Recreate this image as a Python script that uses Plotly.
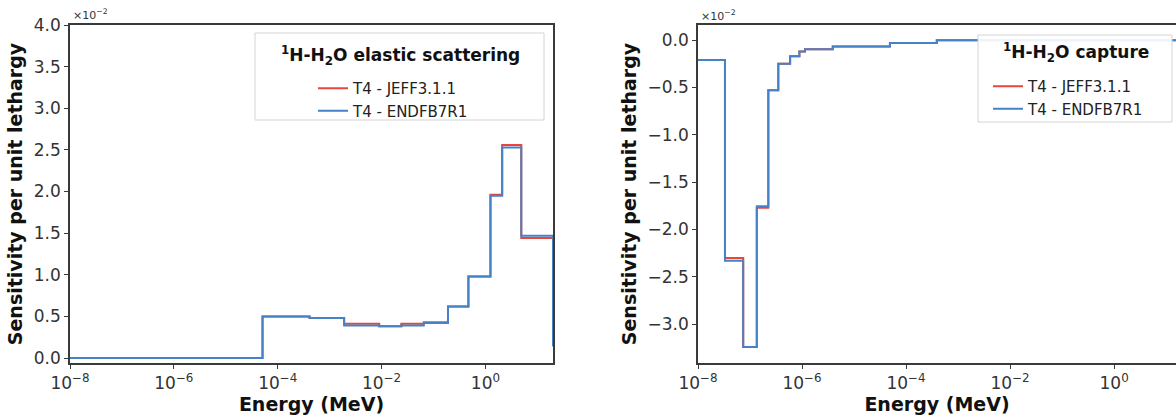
import plotly.graph_objects as go
from plotly.subplots import make_subplots

# ---- data ----
E_el = [1e-8, 5.1e-5, 4.1e-4, 1.9e-3, 9.0e-3, 2.4e-2, 6.5e-2, 0.19, 0.47, 1.25, 2.1, 4.9, 20.0]
el_jeff = [0.0, 0.50, 0.48, 0.41, 0.38, 0.41, 0.43, 0.62, 0.98, 1.96, 2.56, 1.44, 0.14]
el_endf = [0.0, 0.50, 0.48, 0.39, 0.38, 0.39, 0.42, 0.62, 0.98, 1.95, 2.53, 1.47, 0.14]

E_cap = [1e-8, 3.3e-8, 7.4e-8, 1.35e-7, 2.25e-7, 3.5e-7, 5.9e-7, 8.9e-7, 1.14e-6, 3.9e-6, 4.9e-5, 3.9e-4, 20.0]
cap_jeff = [-0.21, -2.30, -3.24, -1.77, -0.53, -0.25, -0.17, -0.12, -0.095, -0.067, -0.03, 0.0, 0.0]
cap_endf = [-0.21, -2.33, -3.24, -1.755, -0.53, -0.25, -0.17, -0.12, -0.095, -0.067, -0.03, 0.0, 0.0]

series_names = ["T4 - JEFF3.1.1", "T4 - ENDFB7R1"]
x_tickvals = [1e-8, 1e-6, 1e-4, 1e-2, 1e0]
x_ticktext = ["10<sup>−8</sup>", "10<sup>−6</sup>", "10<sup>−4</sup>", "10<sup>−2</sup>", "10<sup>0</sup>"]
y1_ticks = [0.0, 0.5, 1.0, 1.5, 2.0, 2.5, 3.0, 3.5, 4.0]
y2_ticks = [0.0, -0.5, -1.0, -1.5, -2.0, -2.5, -3.0]

RED = "#e8453c"
BLUE = "#4582c6"
FONT = "DejaVu Sans"
AX = "#3a3a3a"

W, H = 1176, 416
ML, MR, MT, MB = 70, 0, 25, 53
PW, PH = W - ML - MR, H - MT - MB


def px(x):
    return (x - ML) / PW


def py(y):
    return 1 - (y - MT) / PH


fig = make_subplots(rows=1, cols=2, horizontal_spacing=0.05)
fig.update_layout(xaxis=dict(domain=[0, px(553)]), xaxis2=dict(domain=[px(698), 1.0]))

fig.add_trace(go.Scatter(x=E_el, y=el_jeff, mode="lines", line=dict(shape="hv", color=RED, width=2),
                         name=series_names[0], legend="legend"), row=1, col=1)
fig.add_trace(go.Scatter(x=E_el, y=el_endf, mode="lines", line=dict(shape="hv", color=BLUE, width=2),
                         name=series_names[1], legend="legend"), row=1, col=1)
fig.add_trace(go.Scatter(x=E_cap, y=cap_jeff, mode="lines", line=dict(shape="hv", color=RED, width=2),
                         name=series_names[0], legend="legend2"), row=1, col=2)
fig.add_trace(go.Scatter(x=E_cap, y=cap_endf, mode="lines", line=dict(shape="hv", color=BLUE, width=2),
                         name=series_names[1], legend="legend2"), row=1, col=2)

xcommon = dict(type="log", tickvals=x_tickvals, ticktext=x_ticktext, showline=True, linecolor=AX,
               linewidth=1.5, ticks="outside", ticklen=4, tickcolor=AX, showgrid=False, zeroline=False,
               tickfont=dict(family=FONT, size=17, color="#333"),
               title=dict(text="<b>Energy (MeV)</b>", font=dict(family=FONT, size=19, color="#111"), standoff=2),
               automargin=False)
fig.update_xaxes(**xcommon)
fig.update_xaxes(range=[-8, 1.30103], mirror=True, row=1, col=1)
fig.update_xaxes(range=[-8, 1.19], mirror=True, row=1, col=2)

ycommon = dict(showline=True, linecolor=AX, linewidth=1.5, ticks="outside", ticklen=4, tickcolor=AX,
               showgrid=False, zeroline=False, tickformat=".1f",
               tickfont=dict(family=FONT, size=17, color="#333"),
               title=dict(text="<b>Sensitivity per unit lethargy</b>", font=dict(family=FONT, size=19, color="#111"),
                          standoff=6),
               automargin=False)
fig.update_yaxes(**ycommon)
fig.update_yaxes(range=[-0.06, 4.0], tickvals=y1_ticks, mirror=True, row=1, col=1)
fig.update_yaxes(range=[-3.41, 0.16], tickvals=y2_ticks, mirror=False, row=1, col=2)

shapes = [
    dict(type="rect", xref="paper", yref="paper", x0=px(255), x1=px(544), y0=py(120), y1=py(33),
         line=dict(color="#d4d4d4", width=1), fillcolor="rgba(255,255,255,0.9)", layer="above"),
    dict(type="rect", xref="paper", yref="paper", x0=px(978), x1=px(1172), y0=py(122), y1=py(35),
         line=dict(color="#d4d4d4", width=1), fillcolor="rgba(255,255,255,0.9)", layer="above"),
]

annotations = [
    dict(text="<b><sup>1</sup>H-H<sub>2</sub>O elastic scattering</b>", xref="paper", yref="paper",
         x=px(400), y=py(55), xanchor="center", yanchor="middle", showarrow=False,
         font=dict(family=FONT, size=17, color="#111")),
    dict(text="<b><sup>1</sup>H-H<sub>2</sub>O capture</b>", xref="paper", yref="paper",
         x=px(1076), y=py(53), xanchor="center", yanchor="middle", showarrow=False,
         font=dict(family=FONT, size=17, color="#111")),
    dict(text="×10<sup>−2</sup>", xref="paper", yref="paper", x=px(71), y=py(24), xanchor="left",
         yanchor="bottom", showarrow=False, font=dict(family=FONT, size=11, color="#333")),
    dict(text="×10<sup>−2</sup>", xref="paper", yref="paper", x=px(699), y=py(25), xanchor="left",
         yanchor="bottom", showarrow=False, font=dict(family=FONT, size=11, color="#333")),
]

leg = dict(bgcolor="rgba(0,0,0,0)", borderwidth=0, font=dict(family=FONT, size=15, color="#222"),
           xanchor="left", yanchor="top", tracegroupgap=0)
fig.update_layout(
    width=W, height=H, margin=dict(l=ML, r=MR, t=MT, b=MB),
    paper_bgcolor="white", plot_bgcolor="white",
    showlegend=True,
    legend=dict(leg, x=px(313), y=py(72)),
    legend2=dict(leg, x=px(988), y=py(70)),
    shapes=shapes, annotations=annotations,
)

fig.write_html("out.html")
